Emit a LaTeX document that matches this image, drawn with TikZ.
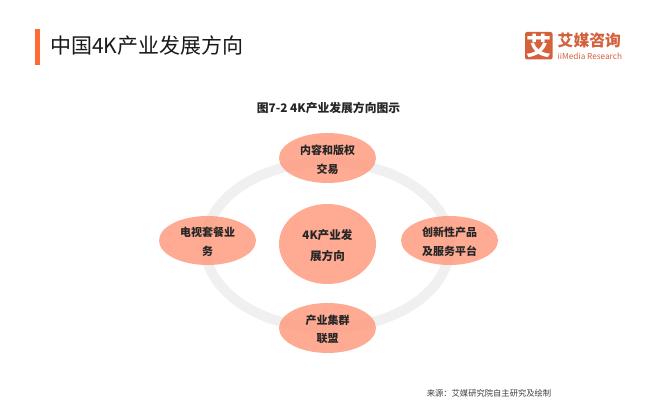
\documentclass[tikz,border=0pt]{standalone}
\usepackage{fontspec}
\setmainfont{Noto Sans CJK SC}
\definecolor{petal}{HTML}{FF9679}
\definecolor{ringc}{HTML}{F0F0F0}
\definecolor{barc}{HTML}{FF6A39}
\definecolor{logoc}{HTML}{D4603C}
\usetikzlibrary{shapes.geometric}
\tikzset{
  petalshape/.style={ellipse, fill=petal, fill opacity=.8, inner sep=0pt, minimum width=97pt},
  petaltext/.style={inner sep=0pt, align=center, font=\fontsize{11}{18.7}\selectfont\bfseries, text=black!85},
}
\begin{document}
\begin{tikzpicture}[x=1pt,y=-1pt]
\useasboundingbox (0,0) rectangle (654,403);
\fill[white] (0,0) rectangle (654,403);
\fill[barc] (35,29) rectangle (40,65);
\node[anchor=west, inner sep=0pt, font=\fontsize{21}{22}\selectfont, text=black!90] (title) at (50,46) {中国4K产业发展方向};
\fill[logoc, rounded corners=2pt] (525,32) rectangle (552.5,59.5);
\node[inner sep=0pt, text=white, font=\fontsize{25}{25}\selectfont\bfseries] (logomark) at (538.7,45.5) {艾};
\node[anchor=west, inner sep=0pt, text=logoc, font=\fontsize{15.8}{16}\selectfont\bfseries] (logotext) at (557.5,40.5) {艾媒咨询};
\node[anchor=west, inner sep=0pt, text=logoc, font=\fontsize{8.2}{8}\selectfont] (logoen) at (557.5,56) {iiMedia Research};
\node[inner sep=0pt, font=\fontsize{11.8}{13}\selectfont\bfseries, text=black!85] (cap) at (328.5,108) {图7-2 4K产业发展方向图示};
\draw[ringc, line width=10pt] (327.5,245) ellipse [x radius=122.5, y radius=83];
\node[petalshape, minimum height=80pt] (c) at (327.5,244) {};
\node[petalshape, minimum height=50pt] (t) at (327.5,158) {};
\node[petalshape, minimum height=49pt] (l) at (207.5,240.5) {};
\node[petalshape, minimum height=49pt] (r) at (449.5,240.5) {};
\node[petalshape, minimum height=50pt] (b) at (327.5,328) {};
\node[petaltext, font=\fontsize{11.6}{20.7}\selectfont\bfseries] (ct) at ([yshift=-1.5pt]c.center) {4K产业发\\展方向};
\node[petaltext] (tt) at ([yshift=-1.5pt]t.center) {内容和版权\\交易};
\node[petaltext] (lt) at ([yshift=-1.5pt]l.center) {电视套餐业\\务};
\node[petaltext] (rt) at ([yshift=-1.5pt]r.center) {创新性产品\\及服务平台};
\node[petaltext] (bt) at ([yshift=-1.5pt]b.center) {产业集群\\联盟};
\node[inner sep=0pt, font=\fontsize{8.3}{9}\selectfont, text=black!75] (src) at (489,393) {来源：艾媒研究院自主研究及绘制};
\end{tikzpicture}
\end{document}
